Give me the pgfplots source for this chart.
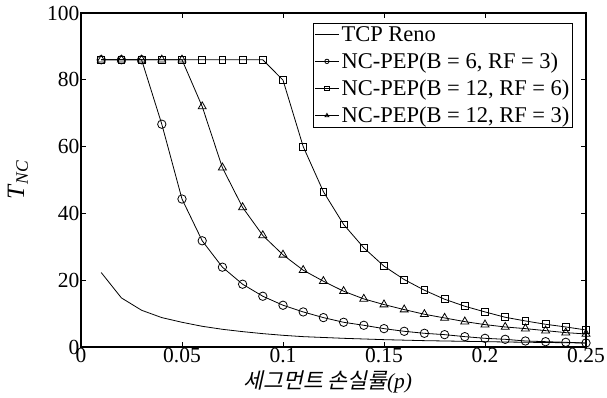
\documentclass[border=0pt]{standalone}
\usepackage{fontspec}
\setmainfont{Liberation Serif}
\newfontfamily\kr[FakeSlant=0.22]{Noto Sans CJK KR}
\usepackage{pgfplots}
\pgfplotsset{compat=1.18}
\begin{document}
\begin{tikzpicture}
\begin{axis}[
  at={(0,0)}, anchor=south west,
  scale only axis,
  width=505pt, height=334pt,
  xmin=0, xmax=0.25, ymin=0, ymax=100,
  xtick={0,0.05,0.1,0.15,0.2,0.25},
  xticklabels={0,0.05,0.1,0.15,0.2,0.25},
  ytick={0,20,40,60,80,100},
  tick align=inside,
  major tick length=5pt,
  axis line style={line width=1.2pt},
  tick style={line width=0.8pt, black},
  /pgf/number format/assume math mode=true,
  tick label style={font=\fontsize{21.5}{23}\selectfont},
  xticklabel style={yshift=2pt},
  yticklabel style={xshift=2pt},
  xlabel={{\kr 세그먼트 손실률}\textit{(p)}},
  xlabel style={font=\fontsize{21.5}{23}\selectfont, at={(axis description cs:0.489,-0.105)}, anchor=center},
  ylabel={\textit{T}\textsubscript{\textit{NC}}},
  ylabel style={font=\fontsize{25}{27}\selectfont, at={(axis description cs:-0.125,0.5)}, anchor=center},
  legend style={at={(rel axis cs:0.974,0.97)}, anchor=north east,
    font=\fontsize{22.5}{24}\selectfont, draw=black, line width=0.8pt,
    inner xsep=1pt, inner ysep=1pt, row sep=6pt},
  legend cell align=left,
  legend image code/.code={
    \draw[#1] (0cm,0cm) -- (0.85cm,0cm);
    \draw[#1, mark size=2.2pt] plot coordinates {(0.42cm,0cm)};
  },
  every axis plot/.append style={black, line width=0.8pt},
]
\addplot[no marks] coordinates {
(0.01,22.3) (0.02,14.7) (0.03,11.0) (0.04,8.8) (0.05,7.4) (0.06,6.2) (0.07,5.3)
(0.08,4.6) (0.09,4.0) (0.10,3.5) (0.11,3.1) (0.12,2.85) (0.13,2.6) (0.14,2.4)
(0.15,2.2) (0.16,2.05) (0.17,1.9) (0.18,1.8) (0.19,1.7) (0.20,1.6) (0.21,1.5)
(0.22,1.42) (0.23,1.35) (0.24,1.28) (0.25,1.2)};
\addlegendentry{TCP Reno}
\addplot[mark=o, mark size=4.2pt, mark options={line width=0.8pt}] coordinates {
(0.01,86) (0.02,86) (0.03,86) (0.04,66.7) (0.05,44.3) (0.06,31.8) (0.07,23.9)
(0.08,18.8) (0.09,15.2) (0.10,12.5) (0.11,10.5) (0.12,8.8) (0.13,7.4) (0.14,6.5)
(0.15,5.5) (0.16,4.7) (0.17,4.1) (0.18,3.7) (0.19,3.1) (0.20,2.6) (0.21,2.3)
(0.22,1.8) (0.23,1.6) (0.24,1.4) (0.25,1.2)};
\addlegendentry{NC-PEP(B = 6, RF = 3)}
\addplot[mark=square, mark size=3.4pt, mark options={line width=0.8pt}] coordinates {
(0.01,86) (0.02,86) (0.03,86) (0.04,86) (0.05,86) (0.06,86) (0.07,86)
(0.08,86) (0.09,86) (0.10,79.9) (0.11,60.0) (0.12,46.5) (0.13,36.7) (0.14,29.7)
(0.15,24.2) (0.16,20.2) (0.17,17.0) (0.18,14.3) (0.19,12.2) (0.20,10.5) (0.21,8.9)
(0.22,7.8) (0.23,6.8) (0.24,6.0) (0.25,5.1)};
\addlegendentry{NC-PEP(B = 12, RF = 6)}
\addplot[mark=triangle, mark size=4.6pt, mark options={line width=0.8pt}] coordinates {
(0.01,86) (0.02,86) (0.03,86) (0.04,86) (0.05,86) (0.06,72.0) (0.07,53.7)
(0.08,41.8) (0.09,33.4) (0.10,27.6) (0.11,23.0) (0.12,19.7) (0.13,16.7) (0.14,14.4)
(0.15,12.7) (0.16,11.2) (0.17,9.8) (0.18,8.7) (0.19,7.6) (0.20,6.7) (0.21,6.0)
(0.22,5.5) (0.23,4.9) (0.24,4.3) (0.25,3.9)};
\addlegendentry{NC-PEP(B = 12, RF = 3)}
\end{axis}
\pgfresetboundingbox
\useasboundingbox (-81pt,-51pt) rectangle (526pt,347pt);
\end{tikzpicture}
\end{document}
